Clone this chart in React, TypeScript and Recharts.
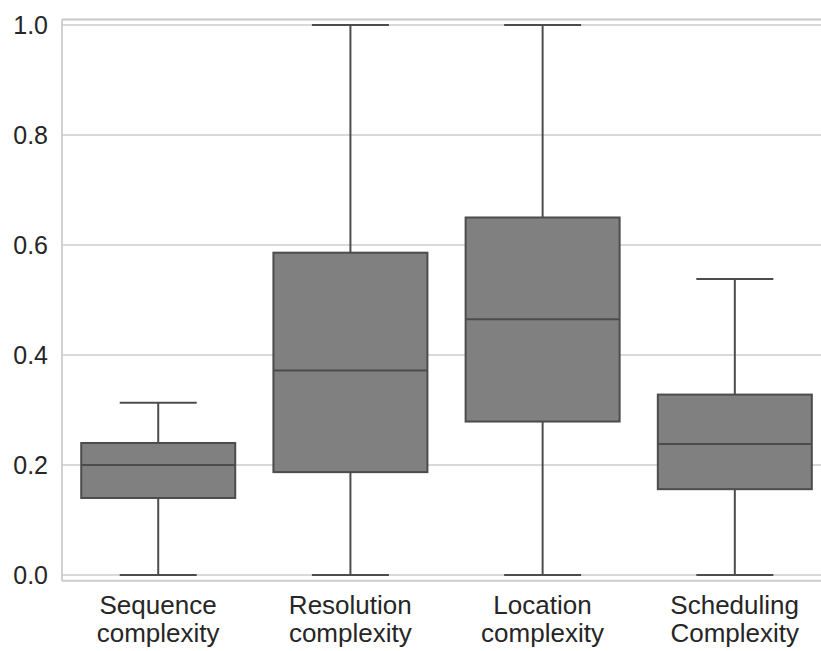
import React from "react";
import {
  Bar,
  CartesianGrid,
  ComposedChart,
  ReferenceLine,
  XAxis,
  YAxis,
} from "recharts";

const categories = [
  "Sequence\ncomplexity",
  "Resolution\ncomplexity",
  "Location\ncomplexity",
  "Scheduling\nComplexity",
];
const whiskerLow = [0, 0, 0, 0];
const q1 = [0.14, 0.187, 0.279, 0.156];
const median = [0.2, 0.372, 0.465, 0.238];
const q3 = [0.24, 0.586, 0.65, 0.328];
const whiskerHigh = [0.313, 1.0, 1.0, 0.538];
const yTicks = [0, 0.2, 0.4, 0.6, 0.8, 1.0];

const Y_MIN = -0.0104;
const Y_MAX = 1.01;

const data = categories.map((name, i) => ({
  name,
  range: [whiskerLow[i], whiskerHigh[i]],
  q1: q1[i],
  median: median[i],
  q3: q3[i],
  lo: whiskerLow[i],
  hi: whiskerHigh[i],
}));

const FONT = "'Liberation Sans', Arial, Helvetica, sans-serif";
const GRID = "#cccccc";
const EDGE = "#4c4c4c";

// the bar spans whisker low..high; the box parts are placed inside it
function BoxShape(props: any) {
  const { x, y, width, height, payload } = props;
  const { lo, hi } = payload;
  const bottom = y + height;
  const toY = (v: number) => bottom - ((v - lo) / (hi - lo)) * height;
  const cx = x + width / 2;
  const capW = width / 2;
  const yQ1 = toY(payload.q1);
  const yQ3 = toY(payload.q3);
  const yMed = toY(payload.median);
  return (
    <g>
      <line x1={cx} x2={cx} y1={y} y2={yQ3} stroke={EDGE} strokeWidth={2} />
      <line x1={cx} x2={cx} y1={yQ1} y2={bottom} stroke={EDGE} strokeWidth={2} />
      <line x1={cx - capW / 2} x2={cx + capW / 2} y1={y} y2={y} stroke={EDGE} strokeWidth={2} />
      <line x1={cx - capW / 2} x2={cx + capW / 2} y1={bottom} y2={bottom} stroke={EDGE} strokeWidth={2} />
      <rect x={x} y={yQ3} width={width} height={yQ1 - yQ3} fill="#808080" stroke={EDGE} strokeWidth={2} />
      <line x1={x} x2={x + width} y1={yMed} y2={yMed} stroke={EDGE} strokeWidth={2} />
    </g>
  );
}

function CategoryTick(props: any) {
  const { x, y, payload } = props;
  const lines = String(payload.value).split("\n");
  return (
    <text x={x} textAnchor="middle" fill="#262626" fontSize={26} fontFamily={FONT}>
      {lines.map((l, i) => (
        <tspan key={i} x={x} y={y + 25.3 + i * 28}>
          {l}
        </tspan>
      ))}
    </text>
  );
}

export default function App() {
  return (
    <div
      style={{
        position: "absolute",
        left: 0,
        top: 0,
        width: 821,
        height: 651,
        overflow: "hidden",
        background: "#fff",
      }}
    >
      <ComposedChart
        width={840}
        height={651}
        data={data}
        margin={{ top: 19.5, right: 9.2, bottom: 0, left: 0 }}
        barCategoryGap="10%"
      >
        <CartesianGrid horizontal vertical={false} stroke={GRID} strokeWidth={1.4} />
        <XAxis
          dataKey="name"
          height={70.3}
          tick={<CategoryTick />}
          tickLine={false}
          axisLine={{ stroke: GRID, strokeWidth: 1.8 }}
          interval={0}
        />
        <YAxis
          width={62}
          domain={[Y_MIN, Y_MAX]}
          ticks={yTicks}
          type="number"
          allowDataOverflow
          tickFormatter={(v: number) => v.toFixed(1)}
          tick={{ fill: "#262626", fontSize: 25, fontFamily: FONT }}
          tickLine={false}
          tickSize={0}
          tickMargin={14}
          axisLine={{ stroke: GRID, strokeWidth: 1.8 }}
        />
        <ReferenceLine y={Y_MAX} stroke={GRID} strokeWidth={1.8} />
        <Bar dataKey="range" shape={<BoxShape />} isAnimationActive={false} />
      </ComposedChart>
    </div>
  );
}
